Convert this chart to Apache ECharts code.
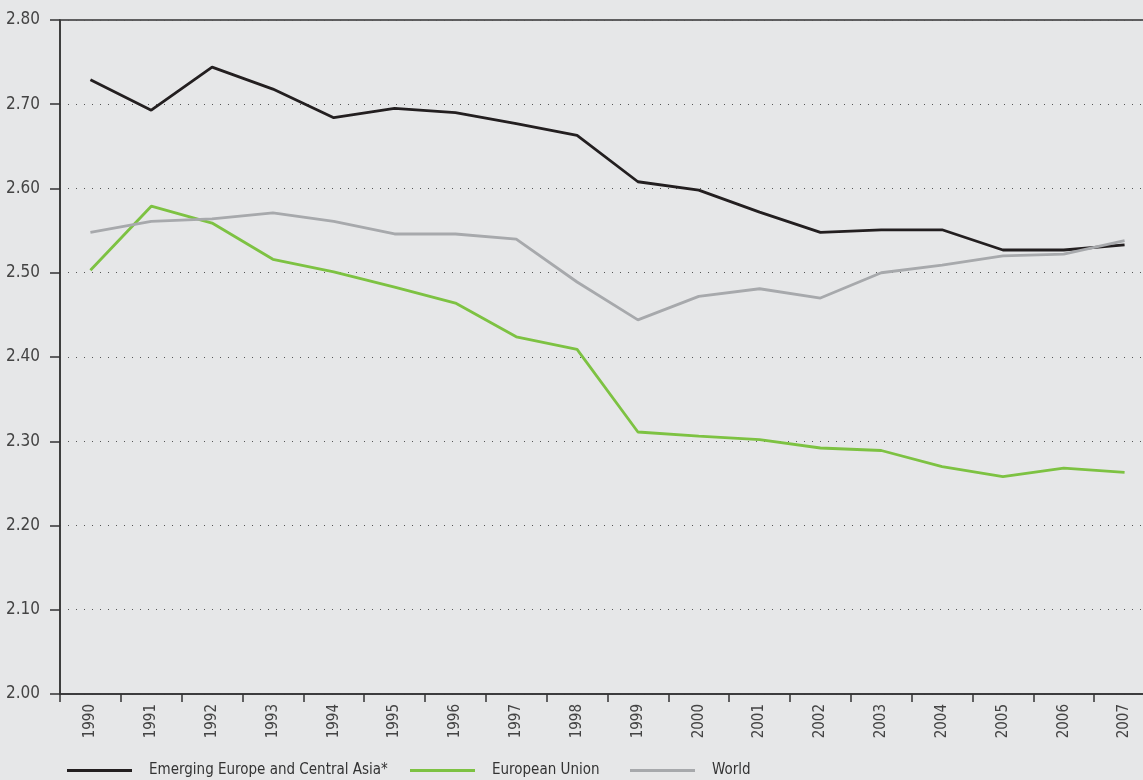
<!DOCTYPE html>
<html>
<head>
<meta charset="utf-8">
<style>
  html, body { margin: 0; padding: 0; background: #e6e7e8; overflow: hidden; }
  #chart { width: 1143px; height: 780px; }
</style>
<script src="https://cdn.jsdelivr.net/npm/echarts@6/dist/echarts.min.js"></script>
</head>
<body>
<div id="chart"></div>
<script>
var years = ['1990','1991','1992','1993','1994','1995','1996','1997','1998','1999','2000','2001','2002','2003','2004','2005','2006','2007'];
var emergingEurope = [2.729, 2.693, 2.744, 2.718, 2.684, 2.695, 2.690, 2.677, 2.663, 2.608, 2.598, 2.572, 2.548, 2.551, 2.551, 2.527, 2.527, 2.533];
var europeanUnion = [2.503, 2.579, 2.559, 2.516, 2.501, 2.483, 2.464, 2.424, 2.409, 2.311, 2.306, 2.302, 2.292, 2.289, 2.270, 2.258, 2.268, 2.263];
var world = [2.548, 2.561, 2.564, 2.571, 2.561, 2.546, 2.546, 2.540, 2.489, 2.444, 2.472, 2.481, 2.470, 2.500, 2.509, 2.520, 2.522, 2.538];

var fontName = '"DejaVu Sans Condensed", "Liberation Sans Narrow", sans-serif';
var colors = ['#231f20', '#7dc242', '#a7a9ac'];
var names = ['Emerging Europe and Central Asia*', 'European Union', 'World'];

var myChart = echarts.init(document.getElementById('chart'));

// 一个图例一个位置
function makeLegend(i, left) {
    return {
        data: [names[i]],
        left: left,
        top: 758,
        icon: 'rect',
        itemWidth: 65,
        itemHeight: 3,
        itemGap: 0,
        textStyle: { fontFamily: fontName, fontSize: 15, color: '#333', padding: [0, 0, 0, 12] }
    };
}

var option = {
    backgroundColor: '#e6e7e8',
    animation: false,
    grid: {
        left: 60,
        top: 20,
        bottom: 86,
        width: 1095,
        containLabel: false,
        outerBoundsMode: 'none',
        show: true,
        borderColor: '#333',
        borderWidth: 1.5,
        backgroundColor: 'transparent'
    },
    legend: [makeLegend(0, 62), makeLegend(1, 405), makeLegend(2, 625)],
    xAxis: {
        type: 'category',
        data: years,
        boundaryGap: true,
        axisLine: { lineStyle: { color: '#333', width: 1.5 } },
        axisTick: { show: true, length: 8, lineStyle: { color: '#333', width: 1.5 } },
        axisLabel: { rotate: 90, margin: 10, fontFamily: fontName, fontSize: 15, color: '#444' },
        splitLine: { show: false }
    },
    yAxis: {
        type: 'value',
        min: 2.0,
        max: 2.8,
        interval: 0.1,
        axisLine: { show: true, lineStyle: { color: '#333', width: 1.5 } },
        axisTick: { show: true, length: 10, lineStyle: { color: '#333', width: 1.5 } },
        axisLabel: {
            margin: 20,
            fontFamily: fontName,
            fontSize: 17,
            color: '#444',
            formatter: function (v) { return v.toFixed(2); }
        },
        splitLine: { show: true, lineStyle: { color: '#555', type: [1, 7], width: 1 } }
    },
    series: [
        {
            name: names[0], type: 'line', data: emergingEurope, symbol: 'none',
            lineStyle: { color: colors[0], width: 2.8 }, itemStyle: { color: colors[0] }
        },
        {
            name: names[1], type: 'line', data: europeanUnion, symbol: 'none',
            lineStyle: { color: colors[1], width: 2.8 }, itemStyle: { color: colors[1] }
        },
        {
            name: names[2], type: 'line', data: world, symbol: 'none',
            lineStyle: { color: colors[2], width: 2.8 }, itemStyle: { color: colors[2] }
        }
    ]
};

myChart.setOption(option);
</script>
</body>
</html>
